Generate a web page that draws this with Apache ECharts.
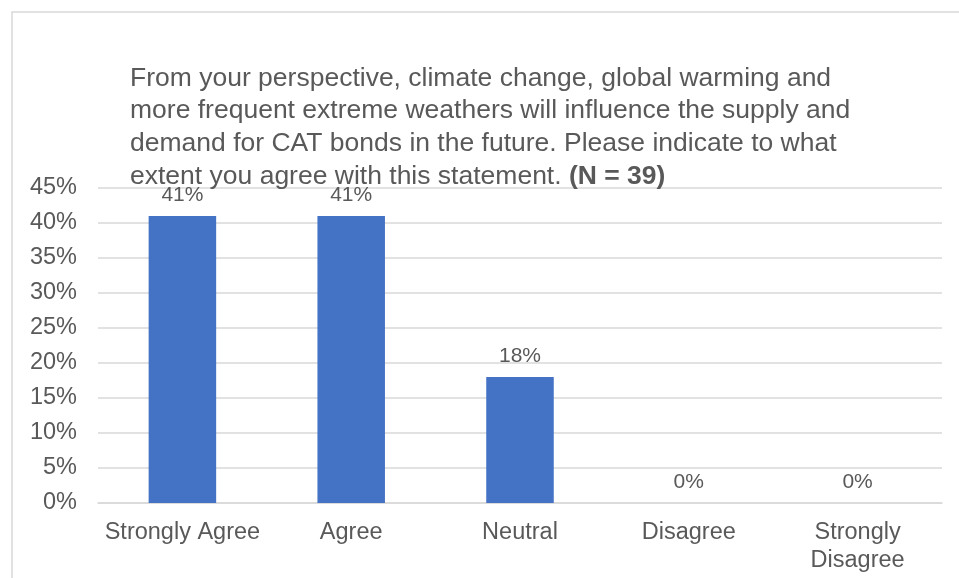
<!DOCTYPE html>
<html>
<head>
<meta charset="utf-8">
<script src="https://cdn.jsdelivr.net/npm/echarts@6/dist/echarts.min.js"></script>
<style>
  html, body { margin: 0; padding: 0; background: #fff; }
  #main { width: 959px; height: 578px; }
</style>
</head>
<body>
<div id="main"></div>
<script>
var categories = ['Strongly Agree', 'Agree', 'Neutral', 'Disagree', 'Strongly\nDisagree'];
var shares = [41, 41, 18, 0, 0];
var yTicks = [0, 5, 10, 15, 20, 25, 30, 35, 40, 45];

var myChart = echarts.init(document.getElementById('main'));
var font = 'Liberation Sans, Arial, sans-serif';
var option = {
    backgroundColor: '#fff',
    animation: false,
    graphic: [{
        type: 'rect',
        shape: { x: 12, y: 12, width: 960, height: 580 },
        style: { fill: 'none', stroke: '#d9d9d9', lineWidth: 1.5 },
        silent: true
    }],
    title: {
        text: '{n|From your perspective, climate change, global warming and}\n' +
              '{n|more frequent extreme weathers will influence the supply and}\n' +
              '{n|demand for CAT bonds in the future. Please indicate to what}\n' +
              '{n|extent you agree with this statement. }{b|(N = 39)}',
        left: 125,
        top: 57,
        textStyle: {
            fontWeight: 'normal',
            rich: {
                n: { fontFamily: font, fontSize: 26.5, color: '#595959', fontWeight: 'normal', lineHeight: 32.7 },
                b: { fontFamily: font, fontSize: 26.5, color: '#595959', fontWeight: 'bold', lineHeight: 32.7 }
            }
        }
    },
    grid: {
        left: 98,
        right: 17,
        top: 188,
        bottom: 75
    },
    xAxis: {
        type: 'category',
        data: categories,
        axisLine: { lineStyle: { color: '#d9d9d9', width: 1.5 } },
        axisTick: { show: false },
        axisLabel: {
            interval: 0,
            color: '#595959',
            fontFamily: font,
            fontSize: 23.5,
            lineHeight: 28,
            margin: 16
        }
    },
    yAxis: {
        type: 'value',
        min: 0,
        max: 45,
        interval: 5,
        axisLine: { show: false },
        axisTick: { show: false },
        splitLine: { lineStyle: { color: '#d9d9d9', width: 1.5 } },
        axisLabel: {
            color: '#595959',
            fontFamily: font,
            fontSize: 23.5,
            margin: 21,
            formatter: function (v) {
                return yTicks.indexOf(v) >= 0 ? v + '%' : '';
            }
        }
    },
    series: [{
        type: 'bar',
        data: shares,
        barWidth: '40%',
        itemStyle: { color: '#4472c4' },
        label: {
            show: true,
            position: 'top',
            distance: 10,
            color: '#595959',
            fontFamily: font,
            fontSize: 21,
            formatter: function (p) { return p.value + '%'; }
        }
    }]
};
myChart.setOption(option);
</script>
</body>
</html>
